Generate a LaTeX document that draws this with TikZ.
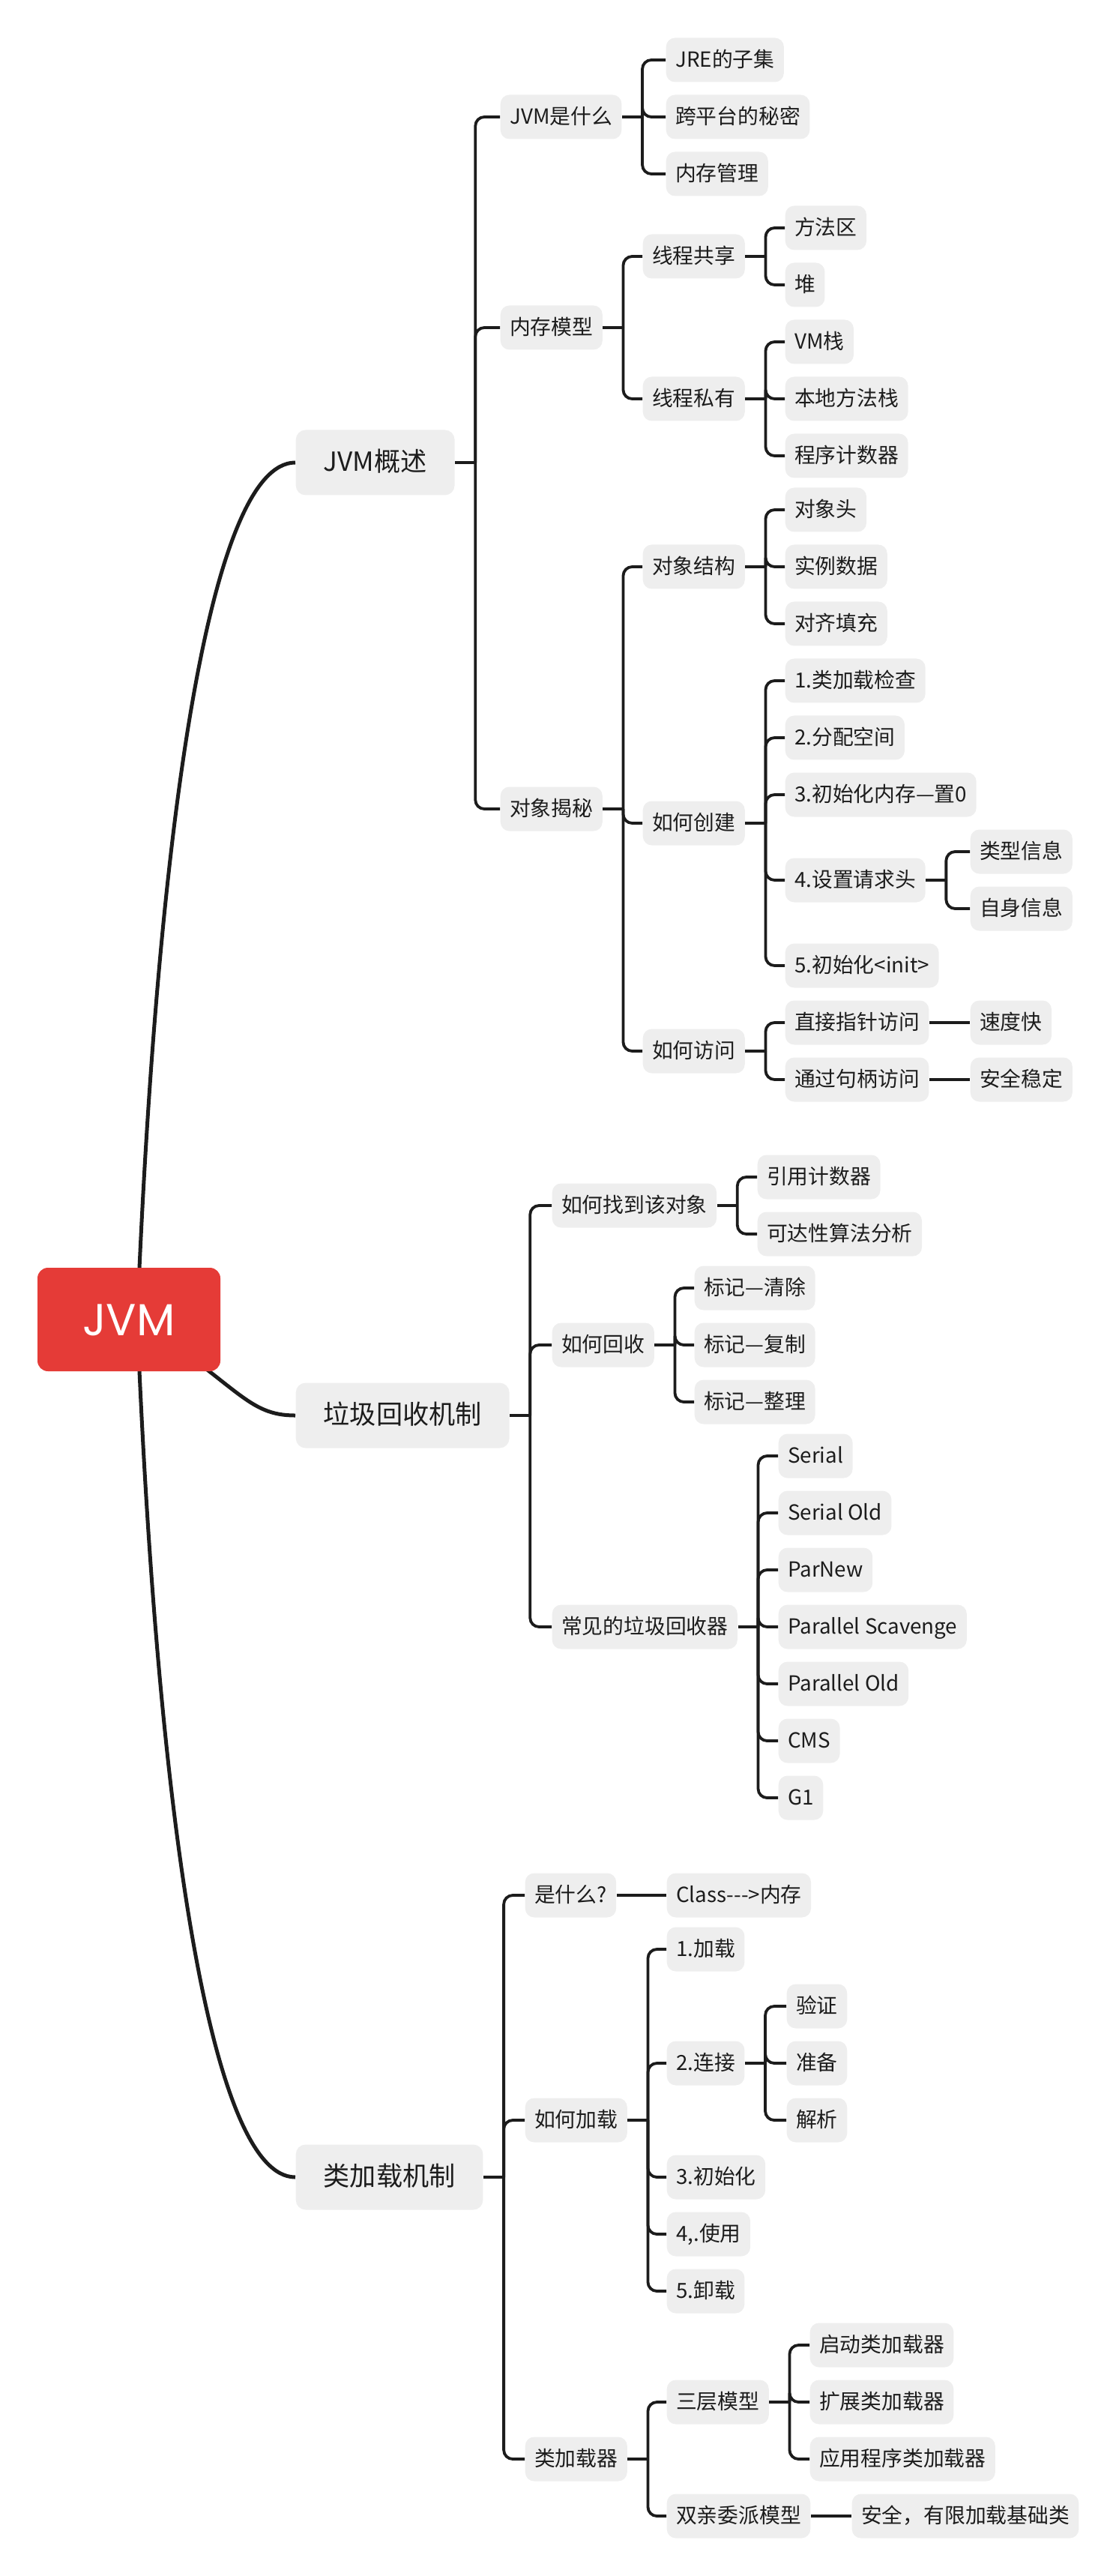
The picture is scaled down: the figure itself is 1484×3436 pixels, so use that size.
\documentclass[tikz,border=0pt]{standalone}
\usepackage{fontspec}
\usepackage{tikz}
\newfontfamily\cjk{Noto Sans CJK SC}
\newfontfamily\rootfont{Poppins}
\definecolor{jvmred}{HTML}{E53B37}
\definecolor{topicgray}{HTML}{EEEEEE}
\definecolor{ink}{HTML}{1C1C1C}

\begin{document}
\begin{tikzpicture}[x=0.1mm,y=-0.1mm,
  mainbox/.style={rounded corners=1.4mm,fill=jvmred,text=white,font=\rootfont\fontsize{17}{20}\selectfont,
    minimum width=24.4mm,minimum height=13.8mm,text height=12pt,text depth=0pt},
  topicbox/.style={anchor=west,rounded corners=1.3mm,fill=topicgray,text=ink,font=\cjk\fontsize{10}{12}\selectfont,
    inner xsep=3.7mm,minimum height=8.7mm,text height=8.2pt,text depth=1.5pt},
  subbox/.style={anchor=west,rounded corners=1.2mm,fill=topicgray,text=ink,font=\cjk\fontsize{7.9}{9}\selectfont,
    inner xsep=1.25mm,minimum height=5.9mm,text height=6.4pt,text depth=1.2pt},
  branchline/.style={draw=ink,line width=0.38mm,rounded corners=1.2mm},
  mainline/.style={draw=ink,line width=0.5mm}]
\useasboundingbox (0,0) rectangle (1484,3436);

% main topics
\node[topicbox] (ov) at (394,617) {JVM概述};
\node[topicbox] (gc) at (394,1888) {垃圾回收机制};
\node[topicbox] (cl) at (394,2904) {类加载机制};

\coordinate (hub) at (183,1760);
\draw[mainline] (hub) .. controls (210,1100) and (280,617) .. (ov.west);
\draw[mainline] (hub) .. controls (320,1850) and (330,1888) .. (gc.west);
\draw[mainline] (hub) .. controls (210,2420) and (280,2904) .. (cl.west);
\node[mainbox] (jvm) at (172,1760) {JVM};

% JVM概述
\node[subbox] (whatis) at (667,156) {JVM是什么};
\node[subbox] (memmodel) at (667,437) {内存模型};
\node[subbox] (objsec) at (667,1079) {对象揭秘};

\node[subbox] (jre) at (888,80) {JRE的子集};
\node[subbox] (cross) at (888,156) {跨平台的秘密};
\node[subbox] (memmgr) at (888,232) {内存管理};

\node[subbox] (shared) at (857,342) {线程共享};
\node[subbox] (private) at (857,532) {线程私有};
\node[subbox] (method) at (1047,304) {方法区};
\node[subbox] (heap) at (1047,380) {堆};
\node[subbox] (vmstack) at (1047,456) {VM栈};
\node[subbox] (native) at (1047,532) {本地方法栈};
\node[subbox] (pc) at (1047,608) {程序计数器};

\node[subbox] (struct) at (857,756) {对象结构};
\node[subbox] (create) at (857,1098) {如何创建};
\node[subbox] (access) at (857,1402) {如何访问};
\node[subbox] (header) at (1047,680) {对象头};
\node[subbox] (inst) at (1047,756) {实例数据};
\node[subbox] (pad) at (1047,832) {对齐填充};
\node[subbox] (cone) at (1047,908) {1.类加载检查};
\node[subbox] (ctwo) at (1047,984) {2.分配空间};
\node[subbox] (cthree) at (1047,1060) {3.初始化内存—置0};
\node[subbox] (cfour) at (1047,1174) {4.设置请求头};
\node[subbox] (cfive) at (1047,1288) {5.初始化<init>};
\node[subbox] (typeinfo) at (1294,1136) {类型信息};
\node[subbox] (selfinfo) at (1294,1212) {自身信息};
\node[subbox] (direct) at (1047,1364) {直接指针访问};
\node[subbox] (handle) at (1047,1440) {通过句柄访问};
\node[subbox] (fast) at (1294,1364) {速度快};
\node[subbox] (safe) at (1294,1440) {安全稳定};

% 垃圾回收机制
\node[subbox] (find) at (736,1608) {如何找到该对象};
\node[subbox] (reclaim) at (736,1794) {如何回收};
\node[subbox] (collectors) at (736,2170) {常见的垃圾回收器};
\node[subbox] (refcount) at (1010,1570) {引用计数器};
\node[subbox] (reach) at (1010,1646) {可达性算法分析};
\node[subbox] (sweep) at (926,1718) {标记—清除};
\node[subbox] (copy) at (926,1794) {标记—复制};
\node[subbox] (compact) at (926,1870) {标记—整理};
\node[subbox] (serial) at (1038,1942) {Serial};
\node[subbox] (serialold) at (1038,2018) {Serial Old};
\node[subbox] (parnew) at (1038,2094) {ParNew};
\node[subbox] (pscav) at (1038,2170) {Parallel Scavenge};
\node[subbox] (pold) at (1038,2246) {Parallel Old};
\node[subbox] (cms) at (1038,2322) {CMS};
\node[subbox] (gone) at (1038,2398) {G1};

% 类加载机制
\node[subbox] (what) at (700,2528) {是什么?};
\node[subbox] (howload) at (700,2828) {如何加载};
\node[subbox] (loader) at (700,3280) {类加载器};
\node[subbox] (classmem) at (889,2528) {Class--->内存};
\node[subbox] (load) at (889,2600) {1.加载};
\node[subbox] (link) at (889,2752) {2.连接};
\node[subbox] (init) at (889,2904) {3.初始化};
\node[subbox] (use) at (889,2980) {4,.使用};
\node[subbox] (unload) at (889,3056) {5.卸载};
\node[subbox] (verify) at (1049,2676) {验证};
\node[subbox] (prepare) at (1049,2752) {准备};
\node[subbox] (resolve) at (1049,2828) {解析};
\node[subbox] (three) at (889,3204) {三层模型};
\node[subbox] (parent) at (889,3356) {双亲委派模型};
\node[subbox] (boot) at (1080,3128) {启动类加载器};
\node[subbox] (ext) at (1080,3204) {扩展类加载器};
\node[subbox] (app) at (1080,3280) {应用程序类加载器};
\node[subbox] (safety) at (1136,3356) {安全，有限加载基础类};

% braces
\draw[branchline] (ov.east) -- ++(27,0) coordinate (ov-j);
\foreach \c in {whatis,memmodel,objsec} \draw[branchline] (ov-j) |- (\c.west);
\draw[branchline] (whatis.east) -- ++(27,0) coordinate (whatis-j);
\foreach \c in {jre,cross,memmgr} \draw[branchline] (whatis-j) |- (\c.west);
\draw[branchline] (memmodel.east) -- ++(27,0) coordinate (memmodel-j);
\foreach \c in {shared,private} \draw[branchline] (memmodel-j) |- (\c.west);
\draw[branchline] (shared.east) -- ++(27,0) coordinate (shared-j);
\foreach \c in {method,heap} \draw[branchline] (shared-j) |- (\c.west);
\draw[branchline] (private.east) -- ++(27,0) coordinate (private-j);
\foreach \c in {vmstack,native,pc} \draw[branchline] (private-j) |- (\c.west);
\draw[branchline] (objsec.east) -- ++(27,0) coordinate (objsec-j);
\foreach \c in {struct,create,access} \draw[branchline] (objsec-j) |- (\c.west);
\draw[branchline] (struct.east) -- ++(27,0) coordinate (struct-j);
\foreach \c in {header,inst,pad} \draw[branchline] (struct-j) |- (\c.west);
\draw[branchline] (create.east) -- ++(27,0) coordinate (create-j);
\foreach \c in {cone,ctwo,cthree,cfour,cfive} \draw[branchline] (create-j) |- (\c.west);
\draw[branchline] (cfour.east) -- ++(27,0) coordinate (cfour-j);
\foreach \c in {typeinfo,selfinfo} \draw[branchline] (cfour-j) |- (\c.west);
\draw[branchline] (access.east) -- ++(27,0) coordinate (access-j);
\foreach \c in {direct,handle} \draw[branchline] (access-j) |- (\c.west);
\draw[branchline] (direct.east) -- (fast.west);
\draw[branchline] (handle.east) -- (safe.west);

\draw[branchline] (gc.east) -- ++(27,0) coordinate (gc-j);
\foreach \c in {find,reclaim,collectors} \draw[branchline] (gc-j) |- (\c.west);
\draw[branchline] (find.east) -- ++(27,0) coordinate (find-j);
\foreach \c in {refcount,reach} \draw[branchline] (find-j) |- (\c.west);
\draw[branchline] (reclaim.east) -- ++(27,0) coordinate (reclaim-j);
\foreach \c in {sweep,copy,compact} \draw[branchline] (reclaim-j) |- (\c.west);
\draw[branchline] (collectors.east) -- ++(27,0) coordinate (collectors-j);
\foreach \c in {serial,serialold,parnew,pscav,pold,cms,gone} \draw[branchline] (collectors-j) |- (\c.west);

\draw[branchline] (cl.east) -- ++(27,0) coordinate (cl-j);
\foreach \c in {what,howload,loader} \draw[branchline] (cl-j) |- (\c.west);
\draw[branchline] (what.east) -- (classmem.west);
\draw[branchline] (howload.east) -- ++(27,0) coordinate (howload-j);
\foreach \c in {load,link,init,use,unload} \draw[branchline] (howload-j) |- (\c.west);
\draw[branchline] (link.east) -- ++(27,0) coordinate (link-j);
\foreach \c in {verify,prepare,resolve} \draw[branchline] (link-j) |- (\c.west);
\draw[branchline] (loader.east) -- ++(27,0) coordinate (loader-j);
\foreach \c in {three,parent} \draw[branchline] (loader-j) |- (\c.west);
\draw[branchline] (three.east) -- ++(27,0) coordinate (three-j);
\foreach \c in {boot,ext,app} \draw[branchline] (three-j) |- (\c.west);
\draw[branchline] (parent.east) -- (safety.west);
\end{tikzpicture}
\end{document}
